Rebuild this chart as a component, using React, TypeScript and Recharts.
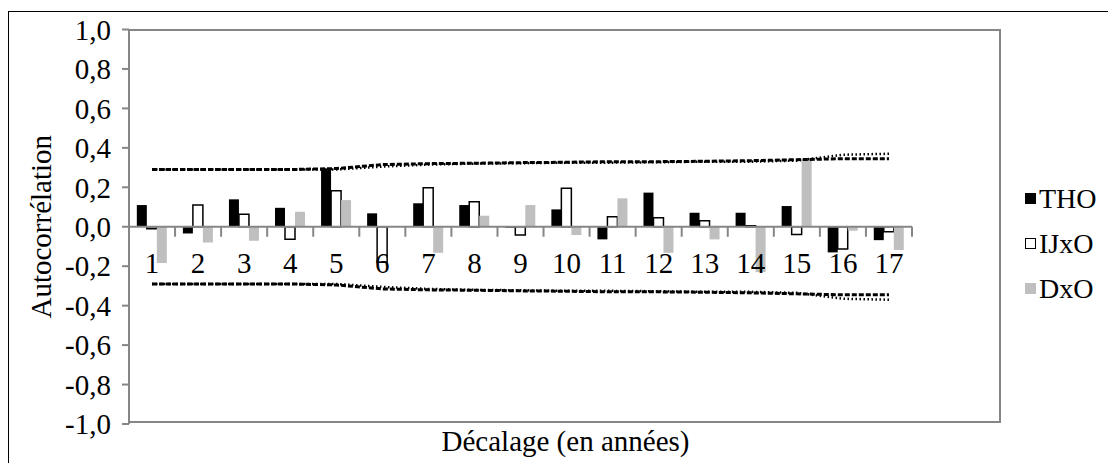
import React from 'react';
import { ComposedChart, Bar, Line, XAxis, YAxis, ReferenceLine, Legend } from 'recharts';

// ---- data ----
const lags = ['1', '2', '3', '4', '5', '6', '7', '8', '9', '10', '11', '12', '13', '14', '15', '16', '17'];
const tho = [0.11, -0.034, 0.139, 0.096, 0.296, 0.068, 0.119, 0.11, -0.005, 0.088, -0.064, 0.173, 0.071, 0.071, 0.105, -0.13, -0.068];
const ijxo = [-0.01, 0.11, 0.064, -0.064, 0.183, -0.18, 0.198, 0.127, -0.042, 0.195, 0.051, 0.046, 0.03, 0.005, -0.039, -0.113, -0.025];
const dxo = [-0.184, -0.08, -0.071, 0.076, 0.135, 0, -0.132, 0.056, 0.11, -0.042, 0.144, -0.132, -0.064, -0.23, 0.347, -0.02, -0.118];
const upperA = [0.29, 0.29, 0.29, 0.29, 0.295, 0.315, 0.32, 0.322, 0.325, 0.327, 0.33, 0.33, 0.332, 0.335, 0.34, 0.345, 0.345];
const upperB = [0.29, 0.29, 0.29, 0.29, 0.29, 0.305, 0.315, 0.32, 0.322, 0.325, 0.325, 0.327, 0.33, 0.33, 0.335, 0.365, 0.37];
const lowerA = upperA.map((v) => -v);
const lowerB = upperB.map((v) => -v);
const yTicks = [-1, -0.8, -0.6, -0.4, -0.2, 0, 0.2, 0.4, 0.6, 0.8, 1];
const seriesNames = ['THO', 'IJxO', 'DxO'];

const data = lags.map((lag, i) => ({
  lag,
  THO: tho[i],
  IJxO: ijxo[i],
  DxO: dxo[i],
  upperA: upperA[i],
  upperB: upperB[i],
  lowerA: lowerA[i],
  lowerB: lowerB[i],
}));

// ---- layout ----
const W = 1108;
const H = 452;
const M = { top: 18.5, right: 114, bottom: 9, left: 0 };
const Y_AXIS_W = 121;
const X_AXIS_H = 30;
const PLOT_TOP = M.top;
const PLOT_BOTTOM = H - M.bottom - X_AXIS_H;
const PLOT_LEFT = M.left + Y_AXIS_W;
const PLOT_RIGHT = W - M.right;
const ZERO_Y = (PLOT_TOP + PLOT_BOTTOM) / 2;
const FONT = "Liberation Serif, Times New Roman, serif";
const FS = 29;
const GRAY = '#868686';

const CatTick = (props: any) => {
  const { x, payload, index } = props;
  const half = payload && payload.offset ? payload.offset : 25.7;
  return (
    <g>
      <line x1={x - half} x2={x - half} y1={ZERO_Y} y2={ZERO_Y + 10} stroke={GRAY} strokeWidth={2} />
      {index === lags.length - 1 && (
        <line x1={x + half} x2={x + half} y1={ZERO_Y} y2={ZERO_Y + 10} stroke={GRAY} strokeWidth={2} />
      )}
      <text x={x} y={ZERO_Y + 46} textAnchor="middle" fontSize={FS} style={{ fontFamily: FONT }} fill="#000">
        {payload.value}
      </text>
    </g>
  );
};

const XTitle = () => (
  <text
    x={(PLOT_LEFT + PLOT_RIGHT) / 2}
    y={PLOT_BOTTOM + 27}
    textAnchor="middle"
    fontSize={FS}
    style={{ fontFamily: FONT }}
    fill="#000"
  >
    Décalage (en années)
  </text>
);

const YTitle = () => {
  const cx = 33;
  const cy = ZERO_Y;
  return (
    <text
      x={cx}
      y={cy}
      transform={`rotate(-90 ${cx} ${cy})`}
      textAnchor="middle"
      dominantBaseline="central"
      fontSize={FS}
      style={{ fontFamily: FONT }}
      fill="#000"
    >
      Autocorrélation
    </text>
  );
};

const swatch: Record<string, React.CSSProperties> = {
  THO: { background: '#000', border: '1px solid #000' },
  IJxO: { background: '#fff', border: '1px solid #000' },
  DxO: { background: '#BFBFBF', border: '1px solid #BFBFBF' },
};

const LegendContent = () => (
  <div style={{ fontFamily: FONT, fontSize: 28, color: '#000' }}>
    {seriesNames.map((n) => (
      <div key={n} style={{ display: 'flex', alignItems: 'center', height: 45 }}>
        <div style={{ width: 9, height: 9, marginRight: 3, ...swatch[n] }} />
        <span>{n}</span>
      </div>
    ))}
  </div>
);

export default function App() {
  return (
    <div style={{ position: 'relative', width: W, height: H + 10, marginTop: 3, fontFamily: FONT }}>
      <div
        style={{
          position: 'absolute',
          left: 0,
          top: 0,
          width: W - 2,
          height: H + 8,
          border: '1px solid #000',
          pointerEvents: 'none',
        }}
      />
      <div style={{ position: 'absolute', left: 0, top: 0 }}>
        <ComposedChart width={W} height={H} data={data} margin={M} barCategoryGap="17%" barGap={0}>
          <XAxis
            dataKey="lag"
            axisLine={false}
            tickLine={false}
            tick={<CatTick />}
            interval={0}
            height={X_AXIS_H}
            label={<XTitle />}
          />
          <YAxis
            domain={[-1, 1]}
            ticks={yTicks}
            width={Y_AXIS_W}
            tickFormatter={(v: number) => v.toFixed(1).replace('.', ',')}
            tick={{ fontSize: FS, fill: '#000', style: { fontFamily: FONT } }}
            tickSize={7}
            tickMargin={11}
            tickLine={{ stroke: GRAY, strokeWidth: 2 }}
            axisLine={{ stroke: GRAY, strokeWidth: 2 }}
            label={<YTitle />}
            interval={0}
          />
          <ReferenceLine y={0} stroke={GRAY} strokeWidth={2} />
          <Bar dataKey="THO" fill="#000" isAnimationActive={false} />
          <Bar dataKey="IJxO" fill="#fff" stroke="#000" strokeWidth={1.5} isAnimationActive={false} />
          <Bar dataKey="DxO" fill="#BFBFBF" isAnimationActive={false} />
          <Line dataKey="upperA" stroke="#000" strokeWidth={3} strokeDasharray="5 2" dot={false} isAnimationActive={false} />
          <Line dataKey="upperB" stroke="#000" strokeWidth={2.5} strokeDasharray="1.5 2.5" dot={false} isAnimationActive={false} />
          <Line dataKey="lowerA" stroke="#000" strokeWidth={3} strokeDasharray="5 2" dot={false} isAnimationActive={false} />
          <Line dataKey="lowerB" stroke="#000" strokeWidth={2.5} strokeDasharray="1.5 2.5" dot={false} isAnimationActive={false} />
          <Legend
            content={<LegendContent />}
            layout="vertical"
            verticalAlign="top"
            align="right"
            wrapperStyle={{ position: 'absolute', left: 1017, top: 165, width: 90 }}
          />
        </ComposedChart>
      </div>
      <div
        style={{
          position: 'absolute',
          left: PLOT_LEFT,
          top: PLOT_TOP,
          width: PLOT_RIGHT - PLOT_LEFT,
          height: PLOT_BOTTOM - PLOT_TOP,
          boxSizing: 'border-box',
          border: `2px solid ${GRAY}`,
          marginLeft: -1,
          marginTop: -1,
          pointerEvents: 'none',
        }}
      />
    </div>
  );
}
